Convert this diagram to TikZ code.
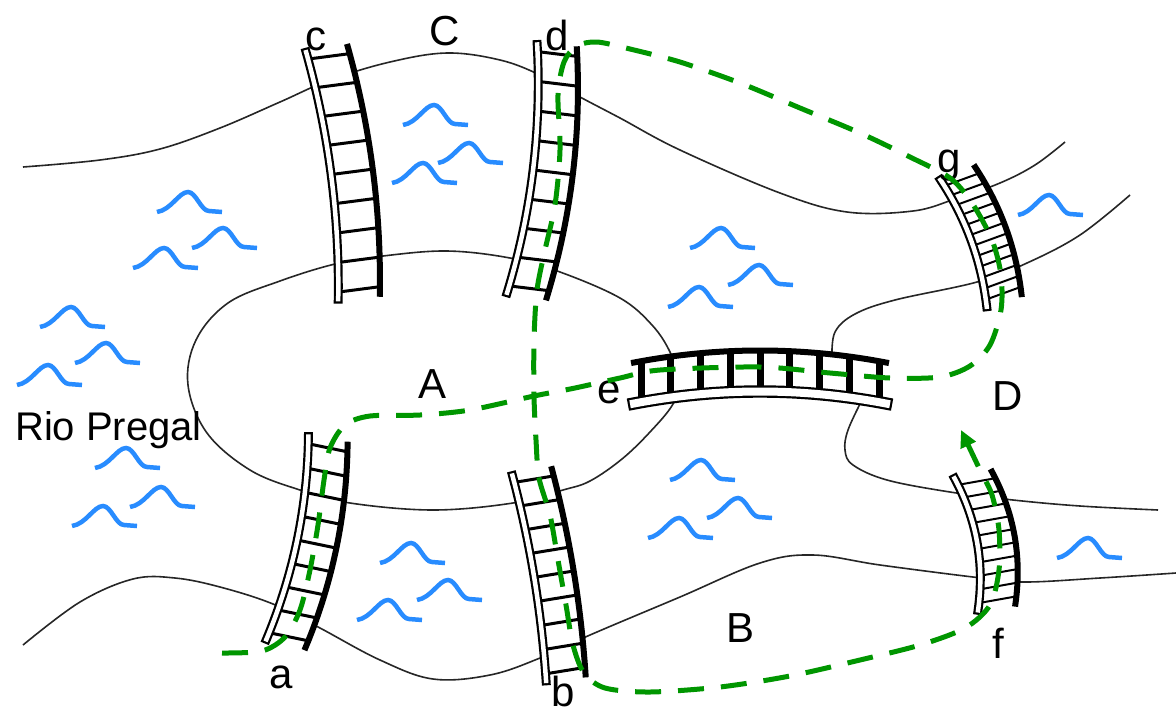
\documentclass[tikz,border=0pt]{standalone}
\usepackage{fontspec}
\setmainfont{Liberation Sans}
\usetikzlibrary{arrows.meta, calc}

% cây cầu: [tuỳ chọn]{x}{y}{góc}{dài}{rộng}{độ cong}{số thanh}
\newcommand{\bridge}[8][]{%
  \begin{scope}[shift={(#2,#3)}, rotate=#4, #1]
    \pgfmathsetmacro\hl{#5/2}
    \pgfmathsetmacro\hw{#6/2}
    \pgfmathsetmacro\cb{4*#7/3}
    \pgfmathtruncatemacro\nlast{#8-1}
    \fill[white] (-\hw,-\hl) .. controls ({-\hw+\cb},{-\hl/3}) and ({-\hw+\cb},{\hl/3}) .. (-\hw,\hl)
      -- (\hw,\hl) .. controls ({\hw+\cb},{\hl/3}) and ({\hw+\cb},{-\hl/3}) .. (\hw,-\hl) -- cycle;
    \foreach \k in {0,...,\nlast} {
      \pgfmathsetmacro\ry{-\hl+7+\k*(#5-14)/\nlast}
      \pgfmathsetmacro\rb{#7*(1-((\ry)/\hl)*((\ry)/\hl))}
      \draw[rung] ({-\hw+\rb},\ry) -- ({\hw+\rb},\ry);
    }
    \draw[railthin] (-\hw,-\hl) .. controls ({-\hw+\cb},{-\hl/3}) and ({-\hw+\cb},{\hl/3}) .. (-\hw,\hl);
    \draw[railthick] (\hw,-\hl) .. controls ({\hw+\cb},{-\hl/3}) and ({\hw+\cb},{\hl/3}) .. (\hw,\hl);
  \end{scope}}

\tikzset{
  bank/.style={line width=1.6pt, black!85},
  wave/.style={line width=4.5pt, waveblue},
  rung/.style={line width=3pt, black},
  railthin/.style={line width=2.2pt, black, double=white, double distance=4.5pt, line cap=rect},
  railthick/.style={line width=6pt, black, line cap=rect},
  route/.style={line width=5pt, pathgreen, dash pattern=on 26pt off 17pt},
  lbl/.style={font=\fontsize{42}{42}\selectfont, inner sep=0pt, anchor=base}
}

\begin{document}
\begin{tikzpicture}[x=1pt, y=-1pt]
    % Định nghĩa màu sắc
    \definecolor{waveblue}{RGB}{40, 140, 255}
    \definecolor{pathgreen}{RGB}{0, 150, 0}

    \fill[white] (0,0) rectangle (1176,716);
    \useasboundingbox (0,0) rectangle (1176,716);

    % 1. Bờ sông
    \draw[bank] plot[smooth, tension=0.6] coordinates {(23,167) (100,160) (160,149) (220,128) (280,102) (330,80) (390,62) (447,53) (500,60) (540,75) (580,97) (620,118) (680,150) (780,193) (847,212) (913,211) (955,199) (1000,183) (1035,165) (1065,142)};
    \draw[bank] plot[smooth cycle, tension=0.6] coordinates {(188,385) (196,340) (228,303) (280,281) (335,264) (383,256) (447,251) (510,258) (560,272) (620,298) (652,325) (670,352) (679,380) (673,404) (650,432) (622,459) (590,481) (563,490) (513,503) (433,510) (350,503) (300,490) (250,470) (207,433)};
    \draw[bank] plot[smooth, tension=0.6] coordinates {(23,645) (80,602) (133,579) (175,578) (220,587) (273,604) (320,628) (380,660) (433,679) (490,675) (540,658) (590,635) (680,597) (760,563) (813,555) (880,565) (973,577) (1023,582) (1100,578) (1176,573)};
    \draw[bank] plot[smooth, tension=0.6] coordinates {(832,358) (835,332) (855,314) (895,300) (977,282) (1027,263) (1080,235) (1130,195)};
    \draw[bank] plot[smooth, tension=0.6] coordinates {(862,400) (848,430) (845,450) (853,465) (887,480) (950,492) (1013,500) (1080,506) (1158,510)};

    % 2. Sóng nước
    \foreach \wx/\wy in {403/125, 438/163, 392/183, 157/212, 192/248, 133/268,
                         40/327, 75/363, 17/385, 95/468, 130/507, 72/526,
                         380/563, 417/600, 357/620, 690/248, 728/285, 668/307,
                         670/480, 707/518, 648/538, 1018/215, 1057/558}
        \draw[wave, shift={(\wx,\wy)}] (0,0) .. controls (14,-2) and (22,-20) .. (31,-20)
            .. controls (39,-20) and (44,-1) .. (52,-1) -- (65,0);

    % 3. Bảy cây cầu
    \bridge{343}{173}{7.4}{249}{42}{9}{9}        % c
    \bridge{542}{171}{-6.9}{250}{40}{11}{9}      % d
    \bridge{307}{542}{-11.7}{207}{40}{10}{9}     % a
    \bridge{549}{575}{9.3}{208}{40}{5}{9}        % b
    \bridge[rung/.style={line width=2pt, black}]{981}{237}{20}{135}{37}{8}{12}   % g
    \bridge[rung/.style={line width=2pt, black}]{985}{541}{10.1}{134}{38}{11}{10} % f
    \bridge[rung/.style={line width=7pt, black},
            railthin/.style={line width=2.2pt, black, double=white, double distance=8pt, line cap=rect}]{760}{383}{90}{252}{41}{12}{9} % e

    % 4. Nhãn
    \node[lbl] (lblc) at (316,50) {c};
    \node[lbl] (lblC) at (445,45) {C};
    \node[lbl] (lbld) at (557,50) {d};
    \node[lbl] (lblg) at (949,172) {g};
    \node[lbl] (lblA) at (433,398) {A};
    \node[lbl] (lble) at (609,403) {e};
    \node[lbl] (lblD) at (1008,410) {D};
    \node[lbl, anchor=base west, font=\fontsize{40}{40}\selectfont] (lblrio) at (15,440) {Rio Pregal};
    \node[lbl] (lbla) at (281,688) {a};
    \node[lbl] (lblb) at (563,706) {b};
    \node[lbl] (lblB) at (741,642) {B};
    \node[lbl] (lblf) at (998,658) {f};

    % 5. Đường đi nét đứt
    \draw[route, -{Triangle[length=17pt, width=16pt]}] plot[smooth, tension=0.5] coordinates {
        (222,653) (262,651) (285,637) (300,610) (310,570) (318,525) (324,480) (330,448) (345,425)
        (370,416) (420,415) (470,410) (534,396) (575,388) (620,378) (660,370) (760,367) (830,373)
        (890,378) (940,377) (970,366) (990,345) (1001,310) (1001,275) (992,240) (972,203) (950,178)
        (910,157) (860,133) (800,108) (740,83) (680,62) (630,49) (597,42) (577,46) (564,62) (558,95)
        (560,150) (555,205) (545,250) (537,290) (534,340) (534,396) (536,440) (539,478) (550,515)
        (558,560) (566,605) (573,645) (584,673) (605,688) (650,692) (720,687) (790,676) (860,660)
        (920,645) (965,628) (990,605) (999,570) (999,530) (992,495) (980,470) (961,430)};

\end{tikzpicture}
\end{document}
